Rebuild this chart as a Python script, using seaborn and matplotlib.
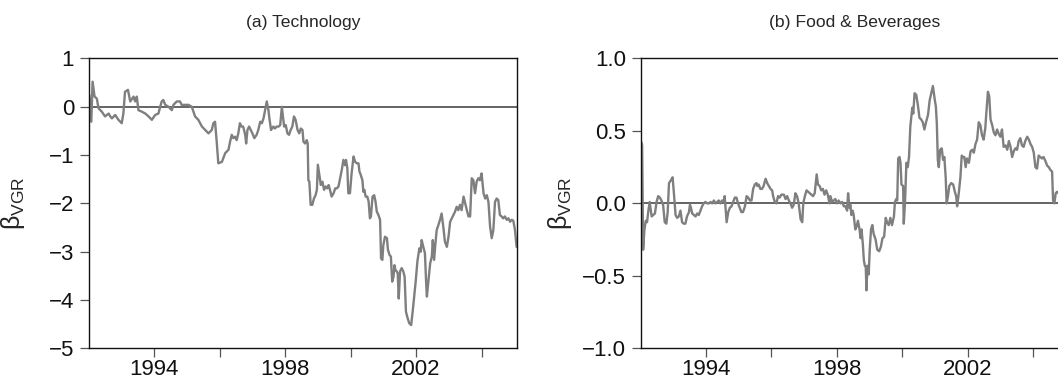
import matplotlib
matplotlib.use("Agg")
import matplotlib.pyplot as plt
import seaborn as sns
import pandas as pd

# ---------------- data ----------------
tech_years = [
    1992.02, 1992.08, 1992.12, 1992.18, 1992.25, 1992.30, 1992.40, 1992.50, 1992.61, 1992.66,
    1992.71, 1992.81, 1992.91, 1993.01, 1993.06, 1993.11, 1993.20, 1993.27, 1993.37, 1993.42,
    1993.47, 1993.52, 1993.62, 1993.73, 1993.83, 1993.93, 1994.03, 1994.13, 1994.23, 1994.28,
    1994.34, 1994.44, 1994.54, 1994.59, 1994.69, 1994.79, 1994.84, 1994.95, 1995.05, 1995.15,
    1995.20, 1995.25, 1995.35, 1995.46, 1995.56, 1995.66, 1995.76, 1995.81, 1995.86, 1995.91,
    1995.96, 1996.07, 1996.17, 1996.27, 1996.32, 1996.37, 1996.42, 1996.47, 1996.52, 1996.57,
    1996.62, 1996.67, 1996.72, 1996.78, 1996.81, 1996.85, 1996.90, 1996.95, 1997.00, 1997.06,
    1997.13, 1997.18, 1997.24, 1997.29, 1997.34, 1997.39, 1997.44, 1997.49, 1997.52, 1997.57,
    1997.64, 1997.69, 1997.74, 1997.80, 1997.85, 1997.90, 1997.93, 1997.97, 1998.02, 1998.07,
    1998.12, 1998.17, 1998.22, 1998.27, 1998.32, 1998.38, 1998.43, 1998.48, 1998.53, 1998.56,
    1998.61, 1998.66, 1998.69, 1998.71, 1998.74, 1998.78, 1998.83, 1998.88, 1998.93, 1998.97,
    1999.00, 1999.04, 1999.09, 1999.14, 1999.19, 1999.24, 1999.29, 1999.33, 1999.37, 1999.42,
    1999.48, 1999.53, 1999.58, 1999.63, 1999.68, 1999.73, 1999.78, 1999.83, 1999.86, 1999.90,
    1999.93, 1999.98, 2000.03, 2000.09, 2000.14, 2000.19, 2000.24, 2000.27, 2000.31, 2000.36,
    2000.39, 2000.42, 2000.46, 2000.51, 2000.55, 2000.59, 2000.62, 2000.67, 2000.72, 2000.76,
    2000.80, 2000.85, 2000.90, 2000.93, 2000.97, 2001.00, 2001.05, 2001.11, 2001.14, 2001.19,
    2001.23, 2001.27, 2001.31, 2001.34, 2001.37, 2001.41, 2001.44, 2001.47, 2001.51, 2001.56,
    2001.61, 2001.65, 2001.69, 2001.73, 2001.79, 2001.85, 2001.90, 2001.94, 2001.99, 2002.04,
    2002.10, 2002.14, 2002.17, 2002.22, 2002.27, 2002.31, 2002.33, 2002.38, 2002.43, 2002.48,
    2002.51, 2002.55, 2002.59, 2002.63, 2002.68, 2002.73, 2002.78, 2002.83, 2002.88, 2002.94,
    2002.99, 2003.04, 2003.09, 2003.14, 2003.19, 2003.24, 2003.29, 2003.34, 2003.39, 2003.45,
    2003.50, 2003.55, 2003.60, 2003.65, 2003.70, 2003.75, 2003.80, 2003.85, 2003.90, 2003.95,
    2004.00, 2004.06, 2004.11, 2004.16, 2004.21, 2004.26, 2004.31, 2004.36, 2004.41, 2004.46,
    2004.51, 2004.56, 2004.61, 2004.66, 2004.71, 2004.77, 2004.82, 2004.87, 2004.92, 2004.97,
    2005.02, 2005.07,
]
tech_beta = [
    0.24, -0.31, 0.52, 0.21, 0.17, -0.03, -0.10, -0.20, -0.14, -0.20,
    -0.24, -0.17, -0.27, -0.34, -0.14, 0.31, 0.35, 0.11, 0.21, 0.11,
    0.21, -0.07, -0.10, -0.14, -0.20, -0.27, -0.17, -0.14, 0.11, 0.14,
    0.04, 0.00, -0.07, 0.04, 0.11, 0.11, 0.04, 0.04, 0.04, 0.00,
    -0.10, -0.20, -0.27, -0.41, -0.48, -0.55, -0.48, -0.34, -0.31, -0.72,
    -1.17, -1.14, -0.96, -0.89, -0.72, -0.58, -0.65, -0.62, -0.69, -0.55,
    -0.34, -0.41, -0.41, -0.58, -0.76, -0.48, -0.41, -0.48, -0.55, -0.65,
    -0.58, -0.48, -0.31, -0.34, -0.24, -0.07, 0.11, -0.07, -0.24, -0.48,
    -0.41, -0.45, -0.41, -0.41, -0.38, 0.00, -0.17, -0.41, -0.38, -0.55,
    -0.58, -0.48, -0.41, -0.20, -0.27, -0.48, -0.55, -0.45, -0.48, -0.72,
    -0.76, -0.69, -0.76, -1.52, -1.55, -2.03, -2.03, -1.90, -1.83, -1.72,
    -1.20, -1.38, -1.62, -1.55, -1.72, -1.65, -1.69, -1.62, -1.72, -1.86,
    -1.79, -1.69, -1.69, -1.65, -1.48, -1.31, -1.10, -1.21, -1.10, -1.27,
    -1.79, -1.79, -1.38, -1.03, -1.14, -1.17, -1.17, -1.34, -1.41, -1.52,
    -1.76, -1.72, -1.86, -1.86, -1.96, -2.31, -2.27, -1.86, -1.83, -1.96,
    -2.17, -2.24, -2.34, -3.14, -3.17, -2.86, -2.69, -2.72, -2.96, -3.07,
    -3.10, -3.62, -3.52, -3.28, -3.38, -3.41, -3.45, -3.97, -3.41, -3.34,
    -3.41, -3.52, -4.24, -4.35, -4.48, -4.52, -4.21, -3.93, -3.60, -3.20,
    -2.93, -3.00, -2.76, -2.90, -3.03, -3.69, -3.93, -3.59, -3.24, -3.10,
    -2.76, -3.17, -2.83, -2.55, -2.45, -2.34, -2.21, -2.48, -2.79, -2.90,
    -2.69, -2.38, -2.31, -2.24, -2.17, -2.07, -2.14, -2.03, -2.14, -1.86,
    -2.00, -2.14, -2.27, -2.27, -1.48, -1.52, -1.79, -1.55, -1.48, -1.52,
    -1.38, -1.79, -1.90, -1.83, -1.97, -2.48, -2.72, -2.55, -1.97, -1.90,
    -1.93, -2.24, -2.27, -2.31, -2.27, -2.34, -2.31, -2.38, -2.34, -2.36,
    -2.55, -2.90,
]

food_years = [
    1992.03, 1992.05, 1992.08, 1992.12, 1992.16, 1992.20, 1992.24, 1992.28, 1992.34, 1992.39,
    1992.44, 1992.49, 1992.54, 1992.59, 1992.64, 1992.69, 1992.74, 1992.79, 1992.83, 1992.87,
    1992.93, 1992.98, 1993.02, 1993.07, 1993.12, 1993.17, 1993.22, 1993.27, 1993.32, 1993.37,
    1993.42, 1993.48, 1993.51, 1993.54, 1993.58, 1993.63, 1993.68, 1993.73, 1993.78, 1993.83,
    1993.88, 1993.93, 1993.98, 1994.04, 1994.09, 1994.14, 1994.19, 1994.24, 1994.29, 1994.34,
    1994.39, 1994.44, 1994.49, 1994.54, 1994.57, 1994.63, 1994.68, 1994.73, 1994.78, 1994.83,
    1994.88, 1994.93, 1994.98, 1995.03, 1995.08, 1995.13, 1995.19, 1995.24, 1995.29, 1995.34,
    1995.39, 1995.44, 1995.49, 1995.54, 1995.57, 1995.61, 1995.66, 1995.71, 1995.76, 1995.82,
    1995.87, 1995.92, 1995.97, 1996.02, 1996.05, 1996.10, 1996.15, 1996.20, 1996.25, 1996.30,
    1996.38, 1996.43, 1996.48, 1996.53, 1996.58, 1996.63, 1996.68, 1996.73, 1996.78, 1996.83,
    1996.89, 1996.94, 1996.97, 1997.02, 1997.07, 1997.12, 1997.17, 1997.22, 1997.27, 1997.32,
    1997.38, 1997.42, 1997.47, 1997.52, 1997.57, 1997.62, 1997.67, 1997.72, 1997.77, 1997.80,
    1997.85, 1997.90, 1997.95, 1998.00, 1998.05, 1998.11, 1998.16, 1998.21, 1998.26, 1998.31,
    1998.34, 1998.38, 1998.41, 1998.44, 1998.48, 1998.51, 1998.56, 1998.60, 1998.64, 1998.69,
    1998.72, 1998.75, 1998.79, 1998.82, 1998.85, 1998.88, 1998.90, 1998.93, 1998.97, 1999.00,
    1999.04, 1999.08, 1999.12, 1999.18, 1999.23, 1999.29, 1999.34, 1999.39, 1999.44, 1999.49,
    1999.53, 1999.58, 1999.63, 1999.68, 1999.74, 1999.77, 1999.81, 1999.84, 1999.87, 1999.91,
    1999.94, 1999.97, 2000.02, 2000.04, 2000.08, 2000.12, 2000.16, 2000.20, 2000.24, 2000.30,
    2000.33, 2000.37, 2000.42, 2000.47, 2000.52, 2000.57, 2000.62, 2000.67, 2000.72, 2000.78,
    2000.83, 2000.88, 2000.93, 2000.96, 2000.99, 2001.02, 2001.05, 2001.08, 2001.11, 2001.15,
    2001.20, 2001.24, 2001.28, 2001.32, 2001.35, 2001.39, 2001.43, 2001.49, 2001.55, 2001.60,
    2001.64, 2001.67, 2001.72, 2001.77, 2001.81, 2001.85, 2001.89, 2001.93, 2001.97, 2002.03,
    2002.08, 2002.13, 2002.18, 2002.23, 2002.28, 2002.33, 2002.38, 2002.43, 2002.48, 2002.53,
    2002.56, 2002.61, 2002.65, 2002.69, 2002.74, 2002.79, 2002.84, 2002.89, 2002.94, 2002.99,
    2003.04, 2003.09, 2003.15, 2003.20, 2003.25, 2003.30, 2003.35, 2003.40, 2003.45, 2003.50,
    2003.55, 2003.60, 2003.65, 2003.70, 2003.75, 2003.81, 2003.86, 2003.91, 2003.96, 2004.01,
    2004.06, 2004.11, 2004.16, 2004.21, 2004.26, 2004.31, 2004.37, 2004.42, 2004.47, 2004.52,
    2004.57, 2004.60, 2004.64, 2004.68, 2004.72, 2004.76, 2004.85, 2004.95, 2005.05,
]
food_beta = [
    0.42, 0.40, -0.32, -0.18, -0.12, -0.13, -0.05, 0.01, -0.09, -0.08,
    -0.07, 0.01, 0.05, 0.04, 0.02, -0.01, -0.13, -0.14, -0.06, 0.14,
    0.16, 0.18, 0.07, -0.08, -0.10, -0.09, -0.05, -0.13, -0.14, -0.14,
    -0.09, -0.06, -0.01, -0.03, -0.07, -0.08, -0.09, -0.07, -0.08, -0.05,
    -0.02, 0.00, 0.01, 0.00, 0.00, 0.01, 0.00, 0.02, 0.00, 0.01,
    0.02, 0.00, 0.02, 0.01, 0.05, -0.13, -0.06, -0.03, -0.02, 0.01,
    0.04, 0.04, 0.00, -0.03, -0.06, -0.06, -0.02, 0.05, 0.04, 0.02,
    0.02, 0.10, 0.13, 0.14, 0.12, 0.13, 0.10, 0.10, 0.12, 0.17,
    0.14, 0.12, 0.10, 0.09, 0.05, 0.01, 0.00, 0.05, 0.04, 0.06,
    0.06, 0.03, 0.05, 0.02, 0.00, -0.03, -0.01, 0.07, 0.05, 0.00,
    -0.11, -0.13, 0.00, 0.05, 0.09, 0.08, 0.07, 0.06, 0.05, 0.07,
    0.20, 0.13, 0.12, 0.09, 0.10, 0.06, 0.09, 0.06, 0.00, 0.05,
    0.01, 0.02, 0.03, 0.00, 0.02, 0.00, 0.01, -0.02, -0.02, -0.05,
    0.07, -0.03, -0.01, -0.08, -0.05, -0.08, -0.18, -0.16, -0.12, -0.18,
    -0.24, -0.18, -0.28, -0.39, -0.43, -0.44, -0.60, -0.43, -0.49, -0.32,
    -0.18, -0.15, -0.21, -0.25, -0.32, -0.33, -0.30, -0.24, -0.23, -0.10,
    -0.13, -0.15, -0.10, -0.15, -0.09, 0.01, 0.03, 0.02, 0.31, 0.32,
    0.28, 0.13, 0.12, -0.14, 0.02, 0.28, 0.25, 0.32, 0.53, 0.66,
    0.62, 0.76, 0.75, 0.68, 0.59, 0.58, 0.56, 0.51, 0.56, 0.61,
    0.71, 0.76, 0.81, 0.76, 0.71, 0.67, 0.55, 0.30, 0.25, 0.37,
    0.38, 0.30, 0.32, 0.18, 0.00, 0.05, 0.12, 0.14, 0.13, 0.08,
    0.05, -0.02, 0.07, 0.18, 0.33, 0.32, 0.32, 0.25, 0.31, 0.28,
    0.36, 0.37, 0.35, 0.41, 0.44, 0.56, 0.54, 0.47, 0.44, 0.52,
    0.62, 0.77, 0.74, 0.58, 0.54, 0.49, 0.47, 0.51, 0.48, 0.46,
    0.51, 0.39, 0.40, 0.37, 0.43, 0.39, 0.32, 0.36, 0.38, 0.37,
    0.43, 0.45, 0.40, 0.39, 0.43, 0.46, 0.44, 0.41, 0.39, 0.35,
    0.25, 0.24, 0.33, 0.32, 0.31, 0.32, 0.29, 0.26, 0.25, 0.23,
    0.22, 0.02, 0.00, 0.07, 0.08, 0.07, 0.08, 0.09, 0.08,
]

titles = ["(a) Technology", "(b) Food & Beverages"]
year_ticks = [1994, 1996, 1998, 2000, 2002, 2004]
year_labels = ["1994", "", "1998", "", "2002", ""]
tech_yticks = [1, 0, -1, -2, -3, -4, -5]
food_yticks = [1.0, 0.5, 0.0, -0.5, -1.0]

# ---------------- style ----------------
sns.set_style("ticks")
plt.rcParams["font.family"] = ["Liberation Sans", "DejaVu Sans"]
plt.rcParams["axes.unicode_minus"] = True

fig = plt.figure(figsize=(10.58, 3.78), dpi=100)
ax1 = fig.add_axes([0.0838, 0.0786, 0.4048, 0.7667])
ax2 = fig.add_axes([0.6054, 0.0786, 0.4048, 0.7667])

line_color = "#7f7f7f"

panels = [
    (ax1, tech_years, tech_beta, (-5, 1), tech_yticks,
     ["1", "0", "\u22121", "\u22122", "\u22123", "\u22124", "\u22125"], -0.145),
    (ax2, food_years, food_beta, (-1, 1), food_yticks,
     ["1.0", "0.5", "0.0", "\u22120.5", "\u22121.0"], -0.155),
]

for i, (ax, xs, ys, ylim, yt, ytl, lblx) in enumerate(panels):
    df = pd.DataFrame({"year": xs, "beta": ys})
    ax.axhline(0, color="#3a3a3a", lw=1.1, zorder=1)
    sns.lineplot(data=df, x="year", y="beta", ax=ax, color=line_color,
                 linewidth=1.7, estimator=None, sort=False, zorder=2)
    ax.set_xlim(1992.0, 2005.08)
    ax.set_ylim(*ylim)
    ax.set_xticks(year_ticks)
    ax.set_xticklabels(year_labels)
    ax.set_yticks(yt)
    ax.set_yticklabels(ytl)
    ax.tick_params(axis="both", which="major", labelsize=16, length=6.5,
                   width=0.9, color="#555555", direction="out",
                   labelcolor="#111111")
    ax.tick_params(axis="x", pad=1.0)
    ax.tick_params(axis="y", pad=4)
    for side in ["left", "bottom", "top", "right"]:
        ax.spines[side].set_visible(True)
        ax.spines[side].set_color("#111111")
        ax.spines[side].set_linewidth(1.0)
    ax.set_xlabel("")
    ax.set_ylabel(r"$\mathregular{\beta_{VGR}}$", fontsize=18)
    ax.yaxis.set_label_coords(lblx, 0.5)
    ax.set_title(titles[i], fontsize=12.6, pad=23)

fig.savefig("out.png", dpi=100)
